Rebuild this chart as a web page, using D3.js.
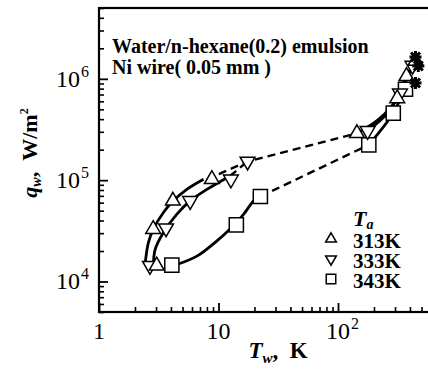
<!DOCTYPE html>
<html>
<head>
<meta charset="UTF-8">
<script src="https://d3js.org/d3.v7.min.js"></script>
<style>
  body { margin: 0; background: #fff; }
  svg text { font-family: "Liberation Serif", "Times New Roman", serif; fill: #000; }
</style>
</head>
<body>
<svg id="chart" width="428" height="374"></svg>
<script>
// measured points, Ta = 313 K, 333 K, 343 K
var T313 = [3.04, 2.84, 4.15, 8.8, 144, 313, 374, 445];
var q313 = [1.43e4, 3.28e4, 6.25e4, 1.02e5, 2.9e5, 6.4e5, 1.06e6, 1.5e6];
var T333 = [2.67, 3.64, 5.79, 12.7, 17.5, 177, 330, 420];
var q333 = [1.43e4, 3.36e4, 6.25e4, 1.02e5, 1.53e5, 3.07e5, 7.2e5, 1.35e6];
var T343 = [4.07, 14.1, 22.4, 181, 290, 367];
var q343 = [1.45e4, 3.62e4, 6.9e4, 2.23e5, 4.58e5, 7.9e5];
// burnout marks
var Tburn = [445, 470, 445];
var qburn = [1.64e6, 1.34e6, 9.1e5];

// smooth fit lines (solid) and transition lines (dashed)
var fit313T = [2.43, 2.59, 2.85, 3.46, 4.19, 5.43, 7.5];
var fit313q = [1.48e4, 2.42e4, 3.28e4, 4.8e4, 6.25e4, 8.1e4, 1.02e5];
var fit333T = [2.85, 2.95, 3.46, 4.47, 5.79, 8.0, 12.5];
var fit333q = [1.38e4, 2.07e4, 3.05e4, 4.6e4, 6.25e4, 8.1e4, 1.1e5];
var fit343T = [4.19, 6.6, 9.7, 12.5, 16.2, 19.6, 22.4];
var fit343q = [1.43e4, 1.78e4, 2.52e4, 3.3e4, 4.6e4, 6.25e4, 7.3e4];
var hi313T = [144, 220, 313, 374, 445];
var hi313q = [2.9e5, 4.0e5, 6.4e5, 1.06e6, 1.5e6];
var hi333T = [177, 260, 330, 420];
var hi333q = [3.07e5, 4.6e5, 7.2e5, 1.35e6];
var hi343T = [181, 290, 367, 445];
var hi343q = [2.23e5, 4.58e5, 7.9e5, 9.5e5];
var dash313T = [8.0, 17.5, 144];
var dash313q = [1.02e5, 1.53e5, 2.9e5];
var dash333T = [12.5, 17.5];
var dash333q = [1.1e5, 1.53e5];
var dash343T = [22.4, 181];
var dash343q = [6.9e4, 2.23e5];

var xMajor = [1, 10, 100];
var xLabels = [["1", ""], ["10", ""], ["10", "2"]];
var yMajor = [1e4, 1e5, 1e6];
var yLabels = [["10", "4"], ["10", "5"], ["10", "6"]];
var legendNames = ["313K", "333K", "343K"];

var svg = d3.select("#chart");
var pad = {left: 99, right: 431, top: 8, bottom: 312};

var x = d3.scaleLog().domain([1, 600]).range([pad.left, pad.right]);
var y = d3.scaleLog().domain([5e3, 5e6]).range([pad.bottom, pad.top]);

function zip(a, b) { return a.map(function(v, i) { return [v, b[i]]; }); }

// frame
svg.append("rect")
  .attr("x", pad.left).attr("y", pad.top)
  .attr("width", pad.right - pad.left).attr("height", pad.bottom - pad.top)
  .attr("fill", "none").attr("stroke", "#000").attr("stroke-width", 2.2);

// minor + major ticks (inward)
var xMinor = x.ticks().filter(function(d) { return xMajor.indexOf(d) < 0; });
var yMinor = y.ticks().filter(function(d) { return yMajor.indexOf(d) < 0; });

function clean(w) {
  return function(g) { g.select(".domain").remove(); g.selectAll("line").attr("stroke-width", w); };
}
svg.append("g").attr("transform", "translate(0," + pad.bottom + ")")
  .call(d3.axisBottom(x).tickValues(xMinor).tickSize(-5).tickFormat(""))
  .call(clean(1.6));
svg.append("g").attr("transform", "translate(0," + pad.bottom + ")")
  .call(d3.axisBottom(x).tickValues(xMajor).tickSize(-9).tickFormat(""))
  .call(clean(1.8));
svg.append("g").attr("transform", "translate(" + pad.left + ",0)")
  .call(d3.axisLeft(y).tickValues(yMinor).tickSize(-5).tickFormat(""))
  .call(clean(1.6));
svg.append("g").attr("transform", "translate(" + pad.left + ",0)")
  .call(d3.axisLeft(y).tickValues(yMajor).tickSize(-9).tickFormat(""))
  .call(clean(1.8));

// tick labels
xMajor.forEach(function(v, i) {
  var base = svg.append("text")
    .attr("x", x(v)).attr("y", pad.bottom + 27)
    .attr("text-anchor", "middle").attr("font-size", 24)
    .text(xLabels[i][0]);
  if (xLabels[i][1]) {
    var w = base.node().getComputedTextLength();
    svg.append("text")
      .attr("x", x(v) + w / 2 + 1).attr("y", pad.bottom + 17)
      .attr("font-size", 16).text(xLabels[i][1]);
  }
});
yMajor.forEach(function(v, i) {
  svg.append("text")
    .attr("x", 80).attr("y", y(v) + 8)
    .attr("text-anchor", "end").attr("font-size", 24)
    .text(yLabels[i][0]);
  svg.append("text")
    .attr("x", 81).attr("y", y(v) - 2)
    .attr("font-size", 16).text(yLabels[i][1]);
});

// axis titles
var xt = svg.append("text").attr("x", 278).attr("y", 358)
  .attr("text-anchor", "middle").attr("font-size", 23).attr("font-weight", "bold");
xt.append("tspan").attr("font-style", "italic").text("T");
xt.append("tspan").attr("font-style", "italic").attr("font-size", 15).attr("dy", 5).text("w");
xt.append("tspan").attr("dy", -5).text(",\u2002K");

var yt = svg.append("text").attr("transform", "translate(37,153) rotate(-90)")
  .attr("text-anchor", "middle").attr("font-size", 22).attr("font-weight", "bold");
yt.append("tspan").attr("font-style", "italic").text("q");
yt.append("tspan").attr("font-style", "italic").attr("font-size", 14).attr("dy", 4).text("w");
yt.append("tspan").attr("dy", -4).text(",\u2002W/m");
yt.append("tspan").attr("font-size", 12).attr("dy", -9).text("2");

// annotation
svg.append("text").attr("x", 112).attr("y", 53)
  .attr("font-size", 20).attr("font-weight", "bold").text("Water/n-hexane(0.2) emulsion");
svg.append("text").attr("x", 112).attr("y", 74)
  .attr("font-size", 20).attr("font-weight", "bold").text("Ni wire( 0.05 mm )");

// lines
var line = d3.line().x(function(d) { return x(d[0]); }).y(function(d) { return y(d[1]); });
var smooth = d3.line().curve(d3.curveCatmullRom.alpha(0.5))
  .x(function(d) { return x(d[0]); }).y(function(d) { return y(d[1]); });

[[fit313T, fit313q], [fit333T, fit333q], [fit343T, fit343q],
 [hi313T, hi313q], [hi333T, hi333q], [hi343T, hi343q]].forEach(function(s) {
  svg.append("path").attr("d", smooth(zip(s[0], s[1])))
    .attr("fill", "none").attr("stroke", "#000").attr("stroke-width", 2.8);
});
[[dash313T, dash313q], [dash333T, dash333q], [dash343T, dash343q]].forEach(function(s) {
  svg.append("path").attr("d", line(zip(s[0], s[1])))
    .attr("fill", "none").attr("stroke", "#000").attr("stroke-width", 2.4)
    .attr("stroke-dasharray", "8,5");
});

// markers
var triUp = d3.symbol().type(d3.symbolTriangle).size(95);
var sq = d3.symbol().type(d3.symbolSquare).size(200);

function drawMarkers(Ts, qs, pathFn, rot) {
  svg.append("g").selectAll("path").data(zip(Ts, qs)).enter().append("path")
    .attr("d", pathFn)
    .attr("transform", function(d) { return "translate(" + x(d[0]) + "," + y(d[1]) + ") rotate(" + rot + ")"; })
    .attr("fill", "#fff").attr("stroke", "#000").attr("stroke-width", 1.5);
}
drawMarkers(T343, q343, sq(), 0);
drawMarkers(T333, q333, triUp(), 180);
drawMarkers(T313, q313, triUp(), 0);

// burnout asterisks
var star = "M-6,0L6,0M0,-6L0,6M-4.5,-4.5L4.5,4.5M-4.5,4.5L4.5,-4.5";
svg.append("g").selectAll("path").data(zip(Tburn, qburn)).enter().append("path")
  .attr("d", star)
  .attr("transform", function(d) { return "translate(" + x(d[0]) + "," + y(d[1]) + ")"; })
  .attr("fill", "none").attr("stroke", "#000").attr("stroke-width", 3);

// legend
var lt = svg.append("text").attr("x", 353).attr("y", 226)
  .attr("font-size", 22).attr("font-weight", "bold");
lt.append("tspan").attr("font-style", "italic").text("T");
lt.append("tspan").attr("font-style", "italic").attr("font-size", 14).attr("dy", 3).text("a");

var legTri = d3.symbol().type(d3.symbolTriangle).size(50);
var legSq = d3.symbol().type(d3.symbolSquare).size(90);
var legShapes = [[legTri(), 0], [legTri(), 180], [legSq(), 0]];
legendNames.forEach(function(name, i) {
  var by = 248 + i * 20;
  svg.append("path").attr("d", legShapes[i][0])
    .attr("transform", "translate(331," + (by - 9) + ") rotate(" + legShapes[i][1] + ")")
    .attr("fill", "#fff").attr("stroke", "#000").attr("stroke-width", 1.5);
  svg.append("text").attr("x", 353).attr("y", by)
    .attr("font-size", 21).attr("font-weight", "bold").text(name);
});
</script>
</body>
</html>
